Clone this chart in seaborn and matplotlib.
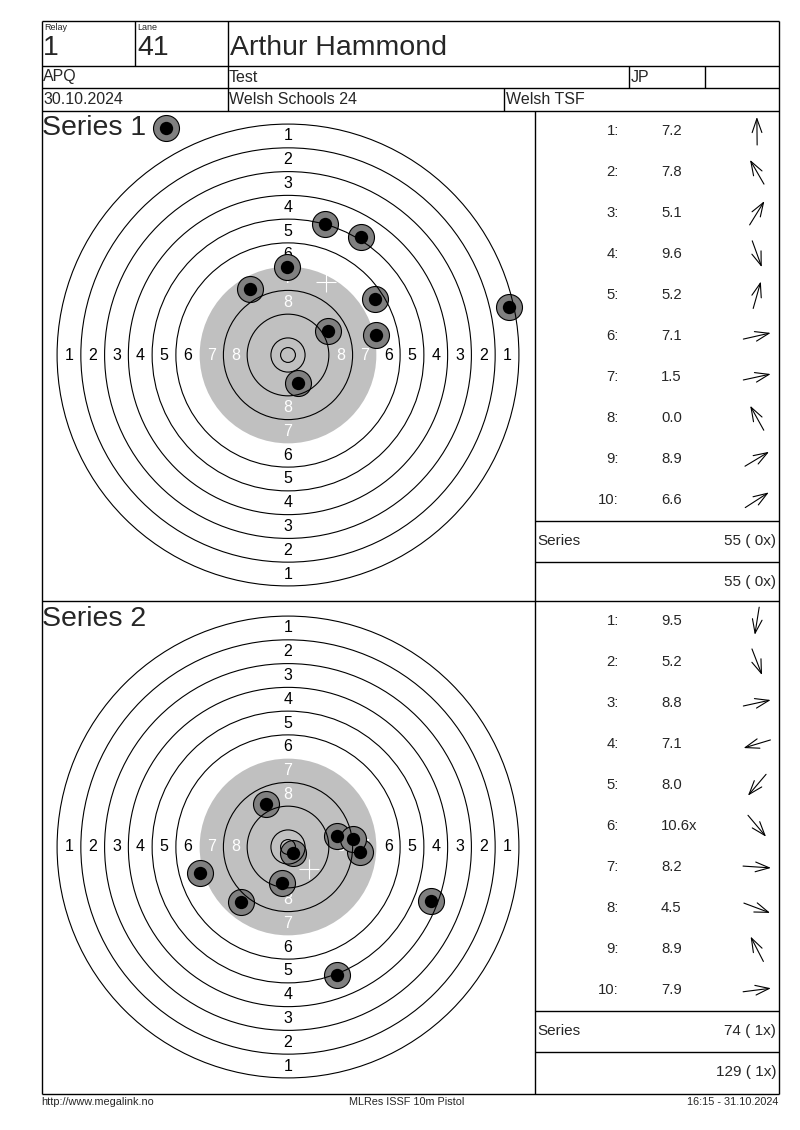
import numpy as np
import pandas as pd
import matplotlib.pyplot as plt
from matplotlib.patches import Circle
import seaborn as sns

sns.set_style('white')
plt.rcParams['font.family'] = ['Liberation Sans', 'DejaVu Sans']

# header / footer texts
relay = '1'
lane = '41'
shooter = 'Arthur Hammond'
club = 'APQ'
event_class = 'Test'
category = 'JP'
match_date = '30.10.2024'
competition = 'Welsh Schools 24'
organiser = 'Welsh TSF'
footer = ['http://www.megalink.no', 'MLRes ISSF 10m Pistol', '16:15 - 31.10.2024']

# ISSF 10m pistol target, ring radii in mm (rings 1..10), inner ten
rings = list(range(1, 11))
ring_radius = [77.75, 69.75, 61.75, 53.75, 45.75, 37.75, 29.75, 21.75, 13.75, 5.75]
inner_ten = 2.5

# series 1: shot positions in mm from centre (y up), shot 8 is a miss
s1_x = [-0.3, -12.8, 24.6, 3.4, 12.5, 29.6, 74.4, np.nan, 13.5, 29.3]
s1_y = [29.6, 22.2, 39.7, -9.4, 44.1, 6.7, 16.2, np.nan, 8.1, 18.9]
s1_score = [7.2, 7.8, 5.1, 9.6, 5.2, 7.1, 1.5, 0.0, 8.9, 6.6]
s1_inner = [0, 0, 0, 0, 0, 0, 0, 0, 0, 0]
s1_miss_dir = 119  # degrees, direction shown for the missed shot
s1_mpi = (12.8, 24.5)

# series 2
s2_x = [-1.9, 16.6, 16.4, -29.5, -15.7, 1.6, 24.4, 48.3, -7.5, 21.9]
s2_y = [-12.0, -43.1, 3.6, -8.9, -18.5, -1.9, -1.6, -18.1, 14.6, 2.8]
s2_score = [9.5, 5.2, 8.8, 7.1, 8.0, 10.6, 8.2, 4.5, 8.9, 7.9]
s2_inner = [0, 0, 0, 0, 0, 1, 0, 0, 0, 0]
s2_mpi = (7.1, -7.5)

W, H = 800, 1130
PX_PER_MM = 2.97
SHOT_GREY = '#808080'
DISK_GREY = '#c0c0c0'

fig = plt.figure(figsize=(W / 100, H / 100), dpi=100)
page = fig.add_axes([0, 0, 1, 1])
page.set_xlim(0, W)
page.set_ylim(H, 0)
page.axis('off')


def hline(y, x0, x1):
    page.plot([x0, x1], [y, y], color='black', lw=1, solid_capstyle='butt')


def vline(x, y0, y1):
    page.plot([x, x], [y0, y1], color='black', lw=1, solid_capstyle='butt')


# frame and header grid
L, R, T, B = 42, 779, 21, 1094
for y in (T, 66, 88, 111, 601, B):
    hline(y, L, R)
vline(L, T, B)
vline(R, T, B)
vline(135, T, 66)
vline(228, T, 111)
vline(629, 66, 88)
vline(705, 66, 88)
vline(504, 88, 111)
vline(535, 111, B)

page.text(44, 27, 'Relay', fontsize=6.5, va='center')
page.text(137, 27, 'Lane', fontsize=6.5, va='center')
page.text(43, 48, relay, fontsize=20.5, va='center')
page.text(137, 48, lane, fontsize=20.5, va='center')
page.text(230, 48, shooter, fontsize=20.5, va='center')
page.text(43, 77, club, fontsize=11.5, va='center')
page.text(229, 77, event_class, fontsize=11.5, va='center')
page.text(631, 77, category, fontsize=11.5, va='center')
page.text(43, 100, match_date, fontsize=11.5, va='center')
page.text(229, 100, competition, fontsize=11.5, va='center')
page.text(506, 100, organiser, fontsize=11.5, va='center')

page.text(41, 1102, footer[0], fontsize=7.8, va='center')
page.text(407, 1102, footer[1], fontsize=7.8, va='center', ha='center')
page.text(778, 1102, footer[2], fontsize=7.8, va='center', ha='right')


def shot_marks(ax, df, z=3):
    sns.scatterplot(data=df, x='x', y='y', s=350, color=SHOT_GREY, edgecolor='black',
                    linewidth=0.8, ax=ax, zorder=z, legend=False)
    sns.scatterplot(data=df, x='x', y='y', s=92, color='black', edgecolor='black',
                    linewidth=0, ax=ax, zorder=z + 0.1, legend=False)


def draw_target(cx, cy, xs, ys, mpi, half=80):
    w = 2 * half * PX_PER_MM
    ax = fig.add_axes([(cx - w / 2) / W, 1 - (cy + w / 2) / H, w / W, w / H])
    ax.add_patch(Circle((0, 0), ring_radius[6], fc=DISK_GREY, ec='none', zorder=1))
    for n, r in zip(rings, ring_radius):
        if n == 7:
            continue
        ax.add_patch(Circle((0, 0), r, fill=False, ec='black', lw=0.8, zorder=5))
    ax.add_patch(Circle((0, 0), inner_ten, fill=False, ec='black', lw=0.8, zorder=5))
    for n in range(1, 9):
        d = ring_radius[n - 1] - 4
        col = 'white' if n >= 7 else 'black'
        for ux, uy in [(-1, 0), (1, 0), (0, 1), (0, -1)]:
            ax.text(ux * d, uy * d, str(n), ha='center', va='center', color=col,
                    fontsize=11.5, zorder=2)
    df = pd.DataFrame({'x': xs, 'y': ys}).dropna()
    shot_marks(ax, df)
    ax.plot(*mpi, marker='+', color='white', ms=14, mew=0.8, zorder=6)
    ax.set_xlim(-half, half)
    ax.set_ylim(-half, half)
    ax.axis('off')
    return ax


def draw_arrow(cx, cy, ang):
    a = np.radians(ang)
    dx, dy = np.cos(a) * 14, -np.sin(a) * 14
    page.annotate('', xy=(cx + dx, cy + dy), xytext=(cx - dx, cy - dy),
                  arrowprops=dict(arrowstyle='->,head_length=1.0,head_width=0.35',
                                  lw=0.8, color='black', shrinkA=0, shrinkB=0))


def score_column(top, xs, ys, scores, inner, miss_dir=None, running=0, running_x=0):
    for i, (sx, sy, v, ix) in enumerate(zip(xs, ys, scores, inner)):
        y = top + 20 + 41 * i
        page.text(619, y, f'{i + 1}:', fontsize=10.7, ha='right', va='center')
        page.text(661, y, f'{v:.1f}' + ('x' if ix else ''), fontsize=10.7, va='center')
        ang = miss_dir if np.isnan(sx) else np.degrees(np.arctan2(sy, sx))
        draw_arrow(757, y, ang)
    tot = int(sum(int(v) for v in scores))
    nx = int(sum(inner))
    hline(top + 410, 535, R)
    hline(top + 451, 535, R)
    page.text(537, top + 430, 'Series', fontsize=11, va='center')
    page.text(776, top + 430, f'{tot} ({nx:2d}x)', fontsize=11, va='center', ha='right')
    page.text(776, top + 471, f'{running + tot} ({running_x + nx:2d}x)', fontsize=11,
              va='center', ha='right')
    return running + tot, running_x + nx


# series 1
page.text(42, 128, 'Series 1', fontsize=20.5, va='center')
draw_target(288, 355, s1_x, s1_y, s1_mpi)
miss = pd.DataFrame({'x': [166], 'y': [128]})
shot_marks(page, miss, z=3)
run, run_x = score_column(111, s1_x, s1_y, s1_score, s1_inner, miss_dir=s1_miss_dir)

# series 2
page.text(42, 619, 'Series 2', fontsize=20.5, va='center')
draw_target(288, 847, s2_x, s2_y, s2_mpi)
score_column(601, s2_x, s2_y, s2_score, s2_inner, running=run, running_x=run_x)

page.set_xlim(0, W)
page.set_ylim(H, 0)
page.axis('off')
fig.savefig('out.png', dpi=100)
